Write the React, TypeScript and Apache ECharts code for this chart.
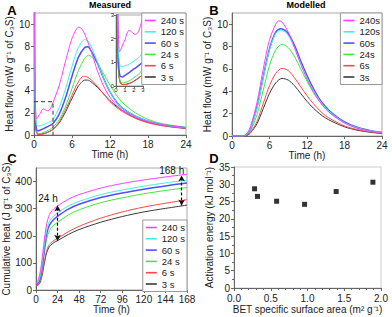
import React, { useEffect, useRef } from 'react';
import * as echarts from 'echarts';

const FONT = 'Liberation Sans, Arial, Helvetica, sans-serif';

const NAMES_S = ['240 s', '120 s', '60 s', '24 s', '6 s', '3 s'];
const NAMES_B = ['240s', '120s', '60s', '24s', '6s', '3s'];
const COLORS = ['#ff40ff', '#40f0e8', '#5050ff', '#40e840', '#ff4848', '#3a3a3a'];
const WIDTHS = [1, 1, 1.5, 1, 1, 1];

// Panel A: measured heat flow (time h, mW/g)
const measured240 = [[0, 40], [0.1, 8], [0.2, 3.4], [0.3, 1.8], [0.4, 1.45], [0.6, 1.6], [0.8, 1.8], [1.0, 1.95], [1.2, 2.2], [1.45, 2.36], [1.7, 2.3], [2.0, 2.2], [2.2, 2.18], [2.5, 2.3], [2.8, 2.65], [3, 2.9], [4, 4.5], [5, 6.7], [6, 8.7], [7, 9.7], [7.5, 9.6], [8, 9.1], [9, 7.6], [10, 5.8], [11, 4.4], [12, 3.4], [13, 2.7], [14, 2.2], [16, 1.6], [18, 1.2], [20, 0.95], [22, 0.8], [24, 0.65]];
const measured120 = [[0, 40], [0.1, 7], [0.2, 2.8], [0.3, 1.3], [0.45, 0.85], [0.7, 0.82], [1, 0.85], [1.5, 0.93], [2, 1.05], [2.5, 1.2], [3, 1.4], [4, 2.5], [5, 4.2], [6, 6.2], [7, 7.9], [8, 8.6], [8.5, 8.5], [9, 8.0], [10, 6.6], [11, 5.1], [12, 3.9], [13, 3.0], [14, 2.4], [16, 1.7], [18, 1.25], [20, 0.95], [22, 0.78], [24, 0.65]];
const measured60 = [[0, 40], [0.1, 6], [0.2, 2.2], [0.3, 0.9], [0.45, 0.42], [0.7, 0.38], [1, 0.45], [1.5, 0.58], [2, 0.72], [2.5, 0.86], [3, 1.03], [4, 1.9], [5, 3.4], [6, 5.3], [7, 7.0], [8, 7.9], [8.5, 7.95], [9, 7.6], [10, 6.5], [11, 5.1], [12, 3.9], [13, 3.0], [14, 2.4], [16, 1.7], [18, 1.25], [20, 0.95], [22, 0.78], [24, 0.65]];
const measured24 = [[0, 40], [0.1, 5], [0.2, 1.8], [0.3, 0.6], [0.5, 0.18], [0.8, 0.13], [1.2, 0.17], [1.6, 0.25], [2, 0.35], [2.5, 0.5], [3, 0.7], [4, 1.4], [5, 2.6], [6, 4.2], [7, 5.8], [8, 6.9], [8.6, 7.2], [9, 7.1], [10, 6.5], [11, 5.5], [12, 4.5], [13, 3.6], [14, 2.9], [16, 2.0], [18, 1.4], [20, 1.05], [22, 0.85], [24, 0.7]];
const measured6 = [[0, 40], [0.1, 5], [0.2, 1.6], [0.3, 0.5], [0.5, 0.12], [0.8, 0.06], [1.2, 0.07], [1.6, 0.12], [2, 0.2], [2.5, 0.33], [3, 0.5], [4, 1.2], [5, 2.3], [6, 3.6], [7, 4.8], [7.8, 5.3], [8.5, 5.2], [9, 5.0], [10, 4.4], [11, 3.7], [12, 3.0], [13, 2.5], [14, 2.1], [16, 1.5], [18, 1.1], [20, 0.85], [22, 0.7], [24, 0.58]];
const measured3 = [[0, 40], [0.1, 5], [0.2, 1.6], [0.3, 0.5], [0.5, 0.12], [0.8, 0.06], [1.2, 0.08], [1.6, 0.13], [2, 0.21], [2.5, 0.34], [3, 0.5], [4, 1.1], [5, 2.1], [6, 3.3], [7, 4.4], [8, 4.95], [8.5, 4.95], [9, 4.8], [10, 4.3], [11, 3.7], [12, 3.1], [13, 2.6], [14, 2.2], [16, 1.55], [18, 1.15], [20, 0.9], [22, 0.72], [24, 0.6]];
const zoomBox = [[0, 3], [3, 3], [3, 0]];

// Panel B: modelled heat flow
const model240 = [[0, 0], [1.5, 0], [2, 0.05], [2.5, 0.3], [3, 0.9], [4, 3.0], [5, 6.0], [6, 8.6], [7, 10.0], [7.5, 10.3], [8, 10.2], [9, 9.3], [10, 7.9], [11, 6.4], [12, 5.1], [13, 4.0], [14, 3.1], [15, 2.4], [16, 1.9], [18, 1.15], [20, 0.7], [22, 0.45], [24, 0.3]];
const model120 = [[0, 0], [1.5, 0], [2, 0.03], [2.5, 0.2], [3, 0.7], [4, 2.5], [5, 5.2], [6, 7.7], [7, 9.2], [7.7, 9.45], [8.5, 9.3], [9, 9.0], [10, 7.9], [11, 6.5], [12, 5.2], [13, 4.1], [14, 3.2], [15, 2.5], [16, 2.0], [18, 1.2], [20, 0.75], [22, 0.47], [24, 0.3]];
const model60 = [[0, 0], [1.5, 0], [2, 0.03], [2.5, 0.2], [3, 0.7], [4, 2.6], [5, 5.3], [6, 7.8], [7, 9.3], [7.8, 9.6], [8.5, 9.45], [9, 9.15], [10, 8.1], [11, 6.7], [12, 5.4], [13, 4.25], [14, 3.3], [15, 2.6], [16, 2.05], [18, 1.25], [20, 0.78], [22, 0.5], [24, 0.32]];
const model24 = [[0, 0], [1.5, 0], [2, 0.02], [2.5, 0.15], [3, 0.5], [4, 1.9], [5, 4.1], [6, 6.3], [7, 7.7], [8, 8.2], [9, 7.9], [10, 7.1], [11, 6.0], [12, 4.9], [13, 3.9], [14, 3.1], [15, 2.45], [16, 1.95], [18, 1.2], [20, 0.75], [22, 0.48], [24, 0.3]];
const model6 = [[0, 0], [1.5, 0], [2, 0.01], [2.5, 0.1], [3, 0.35], [4, 1.3], [5, 2.9], [6, 4.5], [7, 5.6], [8, 6.05], [9, 5.85], [10, 5.2], [11, 4.4], [12, 3.6], [13, 2.9], [14, 2.3], [15, 1.8], [16, 1.45], [18, 0.9], [20, 0.58], [22, 0.38], [24, 0.25]];
const model3 = [[0, 0], [1.5, 0], [2, 0.01], [2.5, 0.08], [3, 0.3], [4, 1.1], [5, 2.45], [6, 3.8], [7, 4.75], [8, 5.15], [9, 5.0], [10, 4.5], [11, 3.8], [12, 3.1], [13, 2.5], [14, 2.0], [15, 1.6], [16, 1.3], [18, 0.82], [20, 0.52], [22, 0.34], [24, 0.22]];

// Panel C: cumulative heat (J/g)
const cum240 = [[0, 25], [2, 35], [4, 55], [6, 95], [8, 150], [10, 205], [12, 245], [14, 270], [16, 285], [20, 300], [24, 310], [36, 335], [48, 352], [72, 376], [96, 393], [120, 406], [144, 417], [168, 427]];
const cum120 = [[0, 22], [2, 28], [4, 42], [6, 75], [8, 128], [10, 183], [12, 222], [14, 245], [16, 258], [20, 274], [24, 285], [36, 310], [48, 327], [72, 352], [96, 369], [120, 383], [144, 395], [168, 405]];
const cum60 = [[0, 20], [2, 25], [4, 37], [6, 66], [8, 117], [10, 170], [12, 209], [14, 232], [16, 245], [20, 261], [24, 272], [36, 298], [48, 316], [72, 341], [96, 358], [120, 372], [144, 384], [168, 395]];
const cum24 = [[0, 18], [2, 22], [4, 32], [6, 57], [8, 103], [10, 152], [12, 190], [14, 212], [16, 225], [20, 240], [24, 250], [36, 277], [48, 296], [72, 322], [96, 340], [120, 355], [144, 367], [168, 378]];
const cum6 = [[0, 15], [2, 18], [4, 26], [6, 46], [8, 80], [10, 118], [12, 146], [14, 163], [16, 172], [20, 183], [24, 190], [36, 215], [48, 235], [72, 265], [96, 288], [120, 306], [144, 320], [168, 333]];
const cum3 = [[0, 14], [2, 17], [4, 24], [6, 43], [8, 75], [10, 112], [12, 139], [14, 155], [16, 164], [20, 175], [24, 182], [36, 205], [48, 223], [72, 250], [96, 271], [120, 288], [144, 301], [168, 313]];
const arrow24 = [[24, 182], [24, 312]];
const arrow168 = [[162, 312], [162, 422]];
const annotationNames = ['24 h', '168 h'];
const annotationAt = [[13.4, 339], [151, 439]];

// Panel D: activation energy vs BET surface area
const betArea = [0.28, 0.32, 0.58, 0.96, 1.39, 1.89];
const activationEnergy = [28.7, 26.5, 25.1, 24.2, 27.9, 30.6];

const MEASURED = [measured240, measured120, measured60, measured24, measured6, measured3];
const MODELLED = [model240, model120, model60, model24, model6, model3];
const CUMULATIVE = [cum240, cum120, cum60, cum24, cum6, cum3];

const AXIS_COLOR = '#666';
const LABEL_COLOR = '#222';

function valueAxis(gridIndex: number, o: any) {
  const { labels, fmt, fontSize, margin, tickLen, ...rest } = o;
  return {
    gridIndex,
    type: 'value',
    splitLine: { show: false },
    axisLine: { show: true, onZero: false, lineStyle: { color: AXIS_COLOR, width: 1 } },
    axisTick: {
      show: true,
      length: tickLen ?? 3,
      lineStyle: { color: AXIS_COLOR },
      ...(labels ? { customValues: labels } : {}),
    },
    axisLabel: {
      color: LABEL_COLOR,
      fontSize: fontSize ?? 10,
      fontFamily: FONT,
      margin: margin ?? 4,
      ...(labels ? { customValues: labels } : {}),
      ...(fmt ? { formatter: fmt } : {}),
    },
    nameLocation: 'middle',
    nameTextStyle: { color: LABEL_COLOR, fontSize: 10, fontFamily: FONT },
    ...rest,
  };
}

function legend(names: string[], right: number, top: number) {
  return {
    data: names.map((n) => ({ name: n, icon: 'rect' })),
    orient: 'vertical',
    right,
    top,
    itemWidth: 11,
    itemHeight: 1.6,
    itemGap: 0.3,
    padding: [2, 2, 2, 3],
    borderColor: '#999',
    borderWidth: 1,
    backgroundColor: '#fff',
    selectedMode: false,
    textStyle: { fontSize: 9.5, fontFamily: FONT, color: LABEL_COLOR, lineHeight: 11 },
  };
}

export default function App() {
  const ref = useRef<HTMLDivElement>(null);
  useEffect(() => {
    if (!ref.current) return;
    const chart = echarts.init(ref.current, null, { renderer: 'svg' });
    const series: any[] = [];
    const order = [5, 4, 3, 2, 1, 0];
    const lineSeries = (name: string, i: number, data: any, xi: number, smooth: number) => ({
      type: 'line',
      name,
      data,
      xAxisIndex: xi,
      yAxisIndex: xi,
      showSymbol: false,
      symbol: 'none',
      smooth,
      clip: true,
      color: COLORS[i],
      lineStyle: { width: WIDTHS[i], color: COLORS[i] },
    });
    order.forEach((i) => series.push(lineSeries(NAMES_S[i], i, MEASURED[i], 0, 0.25)));
    series.push({
      type: 'line', name: 'zoombox', data: zoomBox, xAxisIndex: 0, yAxisIndex: 0,
      showSymbol: false, symbol: 'none', z: 5,
      lineStyle: { type: [4, 3], color: '#333', width: 1 },
    });
    order.forEach((i) => series.push(lineSeries(NAMES_S[i], i, MEASURED[i], 1, 0.25)));
    order.forEach((i) => series.push(lineSeries(NAMES_B[i], i, MODELLED[i], 2, 0.3)));
    order.forEach((i) => {
      const s: any = lineSeries(NAMES_S[i], i, CUMULATIVE[i], 3, 0.3);
      if (i === 5) {
        s.markLine = {
          silent: true,
          symbol: ['arrow', 'arrow'],
          symbolSize: [5, 6],
          label: { show: false },
          lineStyle: { type: [3, 2], color: '#111', width: 1.2 },
          data: [
            [{ coord: arrow24[0] }, { coord: arrow24[1] }],
            [{ coord: arrow168[0] }, { coord: arrow168[1] }],
          ],
        };
      }
      series.push(s);
    });
    series.push({
      type: 'scatter', name: 'Ea',
      data: betArea.map((x, k) => [x, activationEnergy[k]]),
      xAxisIndex: 4, yAxisIndex: 4,
      symbol: 'rect', symbolSize: 5,
      itemStyle: { color: '#000' },
    });

    const gridBase = { show: true, borderColor: '#aaa', borderWidth: 1, backgroundColor: 'transparent', containLabel: false, outerBoundsMode: 'none' };

    const letter = (t: string, x: number, y: number, size = 13) => ({
      type: 'text', x, y,
      style: { text: t, font: `bold ${size}px ${FONT}`, fill: '#000', textAlign: 'center', textVerticalAlign: 'middle' },
    });

    chart.setOption({
      animation: false,
      textStyle: { fontFamily: FONT },
      grid: [
        { ...gridBase, left: 34, top: 13, width: 152, height: 122 },
        { ...gridBase, left: 116, top: 15, width: 27, height: 71, backgroundColor: '#fff', z: 3 },
        { ...gridBase, left: 232, top: 13, width: 150, height: 123 },
        { ...gridBase, left: 36, top: 168, width: 151, height: 122 },
        { ...gridBase, left: 234, top: 167, width: 147, height: 121, borderColor: '#ccc' },
      ],
      xAxis: [
        valueAxis(0, { min: 0, max: 24, interval: 6, name: 'Time (h)', nameGap: 13 }),
        valueAxis(1, { min: 0, max: 3, interval: 1, fontSize: 6, margin: 1, tickLen: 2, z: 4 }),
        valueAxis(2, { min: 0, max: 24, interval: 6, name: 'Time (h)', nameGap: 13 }),
        valueAxis(3, { min: 0, max: 168, interval: 24, name: 'Time (h)', nameGap: 14 }),
        valueAxis(4, {
          min: 0, max: 2, interval: 0.5, name: 'BET specific surface area (m² g⁻¹)', nameGap: 16,
          fmt: (v: number) => v.toFixed(1), margin: 5,
          minorTick: { show: true, splitNumber: 5, length: 2, lineStyle: { color: AXIS_COLOR } },
        }),
      ],
      yAxis: [
        valueAxis(0, { min: 0, max: 11, interval: 2, labels: [0, 2, 4, 6, 8, 10], name: 'Heat flow (mW g⁻¹ of C₃S)', nameGap: 20 }),
        valueAxis(1, { min: 0, max: 3, interval: 1, fontSize: 6, margin: 2, tickLen: 2, z: 4 }),
        valueAxis(2, { min: 0, max: 11, interval: 2, labels: [0, 2, 4, 6, 8, 10], name: 'Heat flow (mW g⁻¹ of C₃S)', nameGap: 20 }),
        valueAxis(3, { min: 0, max: 450, interval: 100, labels: [0, 100, 200, 300, 400], name: 'Cumulative heat (J g⁻¹ of C₃S)', nameGap: 23 }),
        valueAxis(4, {
          min: 0, max: 35, interval: 5, name: 'Activation energy (kJ mol⁻¹)', nameGap: 16,
          minorTick: { show: true, splitNumber: 2, length: 2, lineStyle: { color: AXIS_COLOR } },
        }),
      ],
      legend: [
        legend(NAMES_S, 206, 13),
        legend(NAMES_B, 10, 13),
        legend(NAMES_S, 205, 220),
      ],
      series,
      graphic: [
        letter('A', 12, 10),
        letter('B', 214, 10),
        letter('C', 12, 158),
        letter('D', 214, 158),
        letter('Measured', 110, 5, 9),
        letter('Modelled', 306, 5, 9),
      ],
    });

    // Annotation texts placed through the C panel's own scales
    const annText = annotationNames.map((n, k) => {
      const p = chart.convertToPixel({ xAxisIndex: 3, yAxisIndex: 3 } as any, annotationAt[k]) as any;
      return {
        type: 'text', x: p[0], y: p[1], z: 10,
        style: { text: n, font: `10px ${FONT}`, fill: '#111', textAlign: 'center', textVerticalAlign: 'middle' },
      };
    });
    chart.setOption({
      graphic: [
        letter('A', 12, 10),
        letter('B', 214, 10),
        letter('C', 12, 158),
        letter('D', 214, 158),
        letter('Measured', 110, 5, 9),
        letter('Modelled', 306, 5, 9),
        ...annText,
      ],
    });
    return () => chart.dispose();
  }, []);
  return <div ref={ref} style={{ position: 'absolute', left: 0, top: 0, width: 392, height: 317 }} />;
}
